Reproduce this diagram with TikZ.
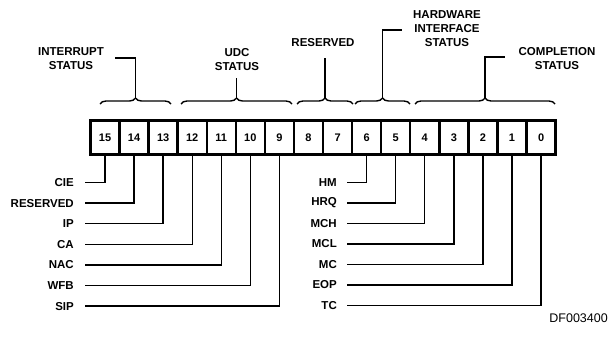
\documentclass[tikz,border=0pt]{standalone}
\usepackage{fontspec}
\setmainfont{Liberation Sans}
\usetikzlibrary{decorations.pathreplacing}
\begin{document}
\begin{tikzpicture}[x=1pt,y=-1pt,
  txt/.style={font=\bfseries\fontsize{11.5}{14}\selectfont,inner sep=0pt,align=center},
  cell/.style={draw,line width=2.4pt,minimum width=29.07pt,minimum height=34pt,inner sep=0pt,font=\bfseries\fontsize{11}{12}\selectfont},
  lead/.style={line width=1.4pt},
  brc/.style={line width=1.4pt,decorate,decoration={brace,amplitude=6pt}},
  bar/.style={line width=1.4pt}]
\useasboundingbox (0,0) rectangle (609,340);
% register cells
\foreach \i in {0,...,15}{
  \node[cell] (c\i) at ({105+(15-\i)*29.07},137.5) {\i};
}
% group labels
\node[txt] (gint) at (71,59) {INTERRUPT\\STATUS};
\node[txt] (gudc) at (237,60) {UDC\\STATUS};
\node[txt] (gres) at (323,43) {RESERVED};
\node[txt] (ghw) at (447,29) {HARDWARE\\INTERFACE\\STATUS};
\node[txt] (gcom) at (557,59) {COMPLETION\\STATUS};
% braces
\draw[brc] (100,104) -- (171,104);
\draw[brc] (181,104) -- (292,104);
\draw[brc] (297,104) -- (353,104);
\draw[brc] (355,104) -- (410,104);
\draw[brc] (415,104) -- (555,104);
% brace stems
\coordinate (t1) at (135.5,98); \coordinate (e1) at (115,58);
\coordinate (t2) at (236.5,98); \coordinate (e2) at (236.5,78);
\coordinate (t3) at (325,98); \coordinate (e3) at (325,58);
\coordinate (t4) at (382.5,98); \coordinate (e4) at (402,30);
\coordinate (t5) at (485,98); \coordinate (e5) at (505,57);
\draw[bar] (t1) |- (e1);
\draw[bar] (t2) -- (e2);
\draw[bar] (t3) -- (e3);
\draw[bar] (t4) |- (e4);
\draw[bar] (t5) |- (e5);
% left field labels
\foreach \n/\t/\b [count=\k from 0] in {cie/CIE/15,rsv/RESERVED/14,ip/IP/13,ca/CA/12,nac/NAC/11,wfb/WFB/10,sip/SIP/9}{
  \node[txt,anchor=east] (\n) at (74,{182.5+\k*20.6}) {\t};
  \draw[lead] ([xshift=11pt]\n.east) -| (c\b.south);
}
% right field labels
\foreach \n/\t/\b [count=\k from 0] in {hm/HM/6,hrq/HRQ/5,mch/MCH/4,mcl/MCL/3,mc/MC/2,eop/EOP/1,tc/TC/0}{
  \node[txt,anchor=east] (\n) at (337,{182.5+\k*20.5}) {\t};
  \draw[lead] ([xshift=10pt]\n.east) -| (c\b.south);
}
\node[font=\fontsize{12.5}{14}\selectfont,inner sep=0pt,anchor=east] (df) at (608,318) {DF003400};
\end{tikzpicture}
\end{document}
